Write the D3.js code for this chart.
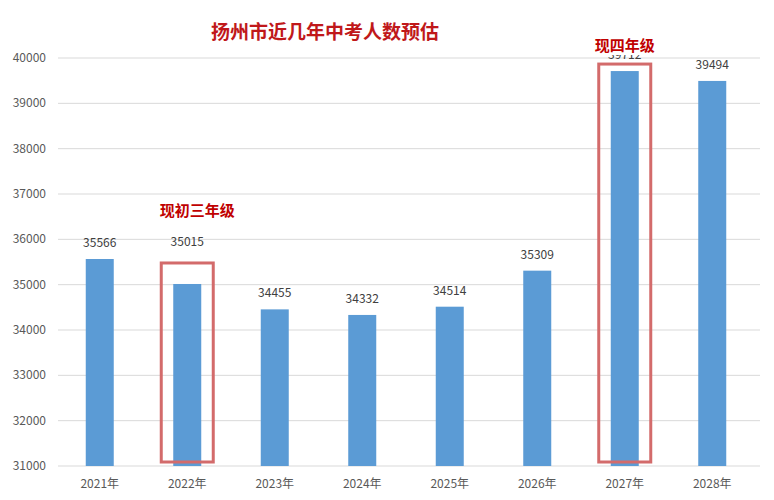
<!DOCTYPE html>
<html><head><meta charset="utf-8">
<script src="https://cdn.jsdelivr.net/npm/d3@7"></script>
<style>body{margin:0;background:#fff}</style></head>
<body><svg id="c" width="774" height="500"></svg>
<script>
const categories=["2021年","2022年","2023年","2024年","2025年","2026年","2027年","2028年"];
const values=[35566,35015,34455,34332,34514,35309,39712,39494];
const yTicks=[31000,32000,33000,34000,35000,36000,37000,38000,39000,40000];
const title="扬州市近几年中考人数预估";
const notes=[{cat:"2022年",text:"现初三年级"},{cat:"2027年",text:"现四年级"}];

const svg=d3.select("#c");
const x=d3.scaleBand().domain(categories).range([56,756]).paddingInner(0.68).paddingOuter(0.34);
const y=d3.scaleLinear().domain([31000,40000]).range([466,58]);
const font="Noto Sans CJK SC, sans-serif";
const labelGap=i=>i===1?38:12;

svg.append("g").selectAll("line").data(yTicks).join("line")
 .attr("x1",58).attr("x2",760).attr("y1",d=>y(d)).attr("y2",d=>y(d))
 .attr("stroke","#d9d9d9").attr("stroke-width",1);
svg.append("g").selectAll("text").data(yTicks).join("text")
 .attr("x",46).attr("y",d=>y(d)+4).attr("text-anchor","end")
 .attr("font-family",font).attr("font-size",12).attr("fill","#595959").text(d=>d);

svg.append("g").selectAll("rect").data(values).join("rect")
 .attr("x",(d,i)=>x(categories[i])).attr("width",x.bandwidth())
 .attr("y",d=>y(d)).attr("height",d=>y(31000)-y(d)).attr("fill","#5b9bd5");
svg.append("g").selectAll("text").data(values).join("text")
 .attr("x",(d,i)=>x(categories[i])+x.bandwidth()/2).attr("y",(d,i)=>y(d)-labelGap(i))
 .attr("text-anchor","middle").attr("font-family",font).attr("font-size",12).attr("fill","#404040").text(d=>d);

svg.append("g").selectAll("text").data(categories).join("text")
 .attr("x",d=>x(d)+x.bandwidth()/2).attr("y",488).attr("text-anchor","middle")
 .attr("font-family",font).attr("font-size",12).attr("fill","#595959").text(d=>d);

notes.forEach(n=>{
 const i=categories.indexOf(n.cat);
 const cx=x(n.cat)+x.bandwidth()/2;
 const top=y(values[i])-(i===1?21:7);
 svg.append("rect").attr("x",cx-26).attr("y",top).attr("width",52).attr("height",462-top)
  .attr("fill","none").attr("stroke","#d36b6b").attr("stroke-width",3);
 const ty=i===1?216:51;
 const tx=i===1?cx+10:cx;
 if(i!==1) svg.append("rect").attr("x",cx-40).attr("y",ty-18).attr("width",80).attr("height",22).attr("fill","#fff");
 svg.append("text").attr("x",tx).attr("y",ty).attr("text-anchor","middle")
  .attr("font-family",font).attr("font-weight","bold").attr("font-size",15).attr("fill","#c00000").text(n.text);
});

svg.append("text").attr("x",325).attr("y",39).attr("text-anchor","middle")
 .attr("font-family",font).attr("font-weight","bold").attr("font-size",19).attr("fill","#c0181a").text(title);
</script></body></html>
